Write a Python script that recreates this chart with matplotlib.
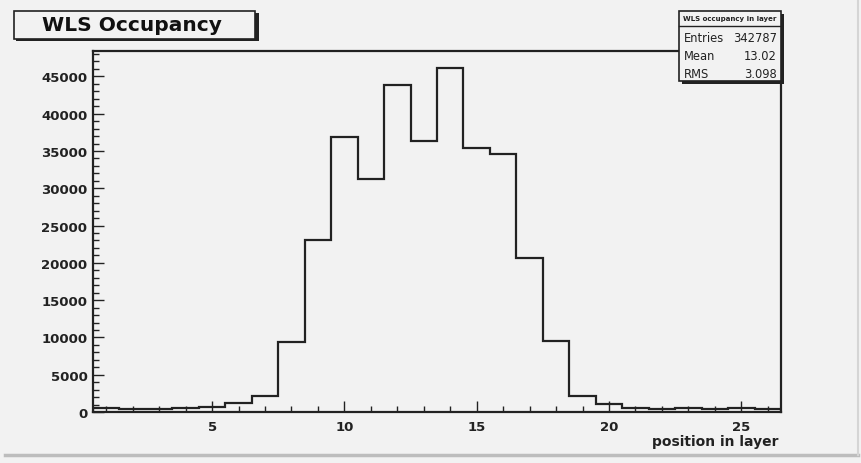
import matplotlib
matplotlib.use("Agg")
import matplotlib.pyplot as plt
from matplotlib.patches import Rectangle
from matplotlib.ticker import MultipleLocator
import numpy as np

# ---- data ----
bin_lo = 0.5
bin_hi = 26.5
counts = [500, 450, 450, 500, 700, 1150, 2200, 9400, 23100, 36900, 31300, 43900,
          36300, 46100, 35400, 34600, 20700, 9500, 2200, 1100, 600, 450, 600, 450, 550, 450]
title = "WLS Occupancy"
stat_title = "WLS occupancy in layer"
stat_names = ["Entries", "Mean", "RMS"]
stat_values = ["342787", "13.02", "3.098"]
xlabel = "position in layer"
xmajor = 5
xminor = 1
ymajor = 5000
yminor = 1000

bg = "#f2f2f2"
ink = "#222222"
fig = plt.figure(figsize=(8.62, 4.64), dpi=100, facecolor=bg)
plt.rcParams['font.family'] = ['DejaVu Sans']

W, H = 862, 464
def fx(px): return px / W
def fy(py): return 1 - py / H

ax = fig.add_axes([fx(93), fy(413), fx(781) - fx(93), fy(52) - fy(413)])
ax.set_facecolor(bg)
edges = np.linspace(bin_lo, bin_hi, len(counts) + 1)
ax.stairs(counts, edges, color=ink, lw=1.6, baseline=0)
ax.set_xlim(bin_lo, bin_hi)
ax.set_ylim(0, max(counts) * 1.05)
for s in ax.spines.values():
    s.set_color(ink)
    s.set_linewidth(1.6)
ax.xaxis.set_major_locator(MultipleLocator(xmajor))
ax.xaxis.set_minor_locator(MultipleLocator(xminor))
ax.yaxis.set_major_locator(MultipleLocator(ymajor))
ax.yaxis.set_minor_locator(MultipleLocator(yminor))
ax.tick_params(which="both", direction="in", top=False, right=False, color=ink)
ax.tick_params(which="major", length=8, width=1.0, labelsize=9.5)
ax.tick_params(which="minor", length=4, width=1.0)
for lab in ax.get_xticklabels() + ax.get_yticklabels():
    lab.set_fontweight("bold")
    lab.set_color(ink)
ax.tick_params(axis="x", pad=6)
ax.tick_params(axis="y", pad=4)

fig.text(fx(779), fy(442), xlabel, ha="right", va="center", fontsize=10,
         fontweight="bold", color=ink)

# title box with shadow
fig.patches.append(Rectangle((fx(16), fy(42)), fx(243), fy(12) - fy(40),
                             transform=fig.transFigure, facecolor=ink, edgecolor="none"))
fig.patches.append(Rectangle((fx(14), fy(40)), fx(241), fy(12) - fy(40),
                             transform=fig.transFigure, facecolor=bg, edgecolor=ink, lw=1.2))
fig.text(fx(132), fy(25.5), title, ha="center", va="center", fontsize=14.5,
         fontweight="bold", color="#111111")

# stats box with shadow
x0, x1, y0, y1 = 679, 781, 12, 82
fig.patches.append(Rectangle((fx(x0 + 3), fy(y1 + 3)), fx(x1 - x0), fy(y0) - fy(y1),
                             transform=fig.transFigure, facecolor=ink, edgecolor="none"))
fig.patches.append(Rectangle((fx(x0), fy(y1)), fx(x1 - x0), fy(y0) - fy(y1),
                             transform=fig.transFigure, facecolor=bg, edgecolor=ink, lw=1.2))
fig.lines.append(plt.Line2D([fx(x0), fx(x1)], [fy(27), fy(27)], transform=fig.transFigure,
                            color=ink, lw=1.0))
fig.text(fx((x0 + x1) / 2), fy(19), stat_title, ha="center", va="center", fontsize=5,
         fontweight="bold", color=ink)
for i, (n, v) in enumerate(zip(stat_names, stat_values)):
    yy = fy(38 + 18 * i)
    fig.text(fx(x0 + 5), yy, n, ha="left", va="center", fontsize=8.3, color=ink)
    fig.text(fx(x1 - 4), yy, v, ha="right", va="center", fontsize=8.3, color=ink)

# canvas bevel
fig.lines.append(plt.Line2D([fx(5), fx(858)], [fy(456), fy(456)], transform=fig.transFigure,
                            color="#bdbdbd", lw=2.5))
fig.lines.append(plt.Line2D([fx(858), fx(858)], [fy(456), fy(2)], transform=fig.transFigure,
                            color="#d5d5d5", lw=1.5))

fig.savefig("out.png", dpi=100, facecolor=bg)
